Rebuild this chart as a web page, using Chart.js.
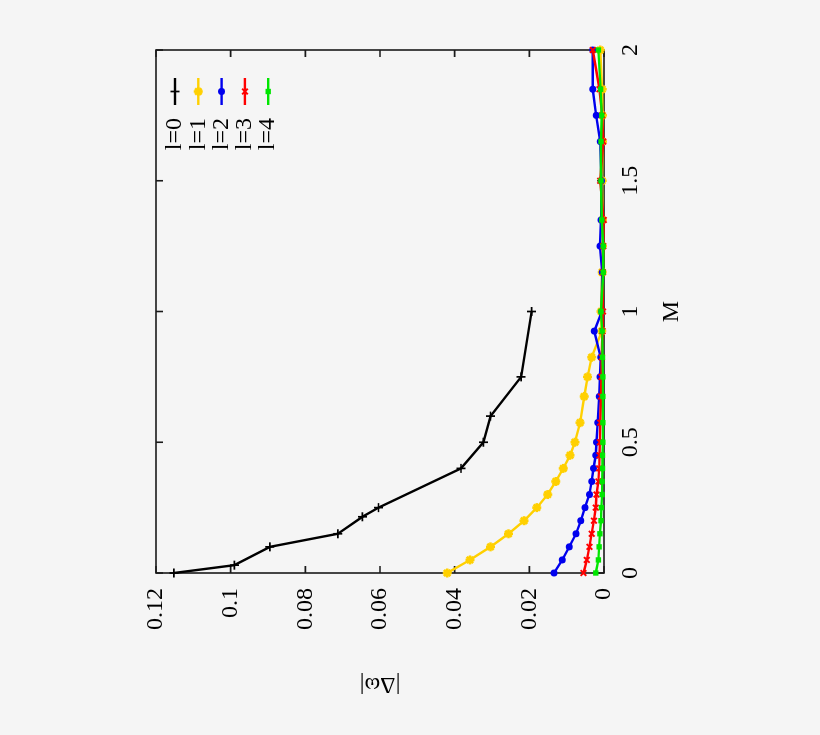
<!DOCTYPE html>
<html><head><meta charset="utf-8">
<script src="https://cdn.jsdelivr.net/npm/chart.js@4.4.1/dist/chart.umd.min.js"></script>
<style>
html,body{margin:0;padding:0;background:#f5f5f5;width:820px;height:735px;overflow:hidden}
#wrap{position:absolute;left:0;top:0;width:735px;height:820px;transform-origin:0 0;transform:translateY(735px) rotate(-90deg);}
canvas{display:block}
</style></head><body>
<div id="wrap"><canvas id="c" width="735" height="820"></canvas></div>
<script>
// ---- data ----
const seriesLabels = ['l=0','l=1','l=2','l=3','l=4'];
const mL0 = [0, 0.03, 0.1, 0.15, 0.215, 0.25, 0.4, 0.5, 0.6, 0.75, 1.0];
const vL0 = [0.1152, 0.0990, 0.0895, 0.0713, 0.0647, 0.0604, 0.0383, 0.0323, 0.0304, 0.0222, 0.0194];
const mGrid = [0,0.05,0.1,0.15,0.2,0.25,0.3,0.35,0.4,0.45,0.5,0.575,0.675,0.75,0.825,0.925,1.0,1.15,1.25,1.35,1.5,1.65,1.75,1.85,2.0];
const vL1 = [0.0420,0.0359,0.0304,0.0256,0.0214,0.0180,0.0151,0.0129,0.0109,0.0091,0.0078,0.0064,0.0053,0.0044,0.0033,0.0006,0.0008,0.0005,0.0004,0.0004,0.0005,0.0004,0.0004,0.0005,0.0010];
const vL2 = [0.0134,0.0112,0.0093,0.0075,0.0062,0.0051,0.0039,0.0033,0.0028,0.0022,0.0020,0.0017,0.0013,0.0011,0.0009,0.0026,0.0006,0.0005,0.0011,0.0008,0.0007,0.0010,0.0021,0.0030,0.0030];
const vL3 = [0.0055,0.0046,0.0039,0.0033,0.0027,0.0022,0.0020,0.0015,0.0013,0.0012,0.0011,0.0010,0.0008,0.0007,0.0006,0.0004,0.0003,0.0003,0.0002,0.0001,0.0010,0.0002,0.0005,0.0012,0.0030];
const vL4 = [0.0022,0.0015,0.0013,0.0011,0.0008,0.0007,0.0005,0.0005,0.0004,0.0004,0.0003,0.0003,0.0003,0.0003,0.0004,0.0005,0.0008,0.0002,0.0002,0.0006,0.0008,0.0008,0.0006,0.0009,0.0015];
const xTickValues = [0, 0.5, 1, 1.5, 2];
const xTickLabels = ['0','0.5','1','1.5','2'];
const yTickValues = [0, 0.02, 0.04, 0.06, 0.08, 0.1, 0.12];
const yTickLabels = ['0','0.02','0.04','0.06','0.08','0.1','0.12'];
const xTitle = 'M';
const yTitle = '|Δω|';

// ---- styles ----
const FONT = '"Liberation Serif", "Times New Roman", Times, serif';
const styles = [
  {color:'#000000', pointStyle:'cross',    radius:4.5, pbw:1.7},
  {color:'#ffd000', pointStyle:'star',     radius:4.5, pbw:2.6},
  {color:'#0000ee', pointStyle:'circle',   radius:3.5, pbw:0},
  {color:'#ff0000', pointStyle:'crossRot', radius:4,   pbw:1.9},
  {color:'#00e600', pointStyle:'rect',     radius:3.8, pbw:0}
];
const pairs = (ms, vs) => ms.map((m,i)=>({x:m, y:vs[i]}));
const seriesData = [pairs(mL0,vL0), pairs(mGrid,vL1), pairs(mGrid,vL2), pairs(mGrid,vL3), pairs(mGrid,vL4)];

const datasets = seriesData.map((d,i)=>({
  label: seriesLabels[i],
  data: d,
  borderColor: styles[i].color,
  backgroundColor: styles[i].color,
  pointBackgroundColor: styles[i].color,
  pointBorderColor: styles[i].color,
  pointStyle: styles[i].pointStyle,
  pointRadius: styles[i].radius,
  pointBorderWidth: styles[i].pbw,
  borderWidth: 2.4,
  showLine: true,
  fill: false,
  tension: 0,
  clip: false,
  order: 4 - i
}));

const framePlugin = {
  id:'frame',
  beforeDatasetsDraw(chart){
    const {ctx, chartArea:a, scales:{x,y}} = chart;
    ctx.save();
    ctx.strokeStyle='#1a1a1a'; ctx.lineWidth=1.6;
    ctx.strokeRect(a.left,a.top,a.right-a.left,a.bottom-a.top);
    const tl=7;
    ctx.beginPath();
    x.ticks.forEach(t=>{const px=x.getPixelForValue(t.value); ctx.moveTo(px,a.bottom); ctx.lineTo(px,a.bottom-tl); ctx.moveTo(px,a.top); ctx.lineTo(px,a.top+tl);});
    y.ticks.forEach(t=>{const py=y.getPixelForValue(t.value); ctx.moveTo(a.left,py); ctx.lineTo(a.left+tl,py); ctx.moveTo(a.right,py); ctx.lineTo(a.right-tl,py);});
    ctx.stroke(); ctx.restore();
  }
};

const keyPlugin = {
  id:'key',
  afterDatasetsDraw(chart){
    const {ctx, chartArea:a} = chart;
    const rowTop = a.top + 19, rowStep = 23.3;
    const textRight = a.right - 68, s1 = a.right - 55, s2 = a.right - 28;
    chart.data.datasets.forEach((ds,i)=>{
      const yy = rowTop + i*rowStep;
      ctx.save();
      ctx.font = '24px ' + FONT; ctx.fillStyle = '#000'; ctx.textAlign = 'right'; ctx.textBaseline = 'middle';
      ctx.fillText(ds.label, textRight, yy);
      ctx.strokeStyle = ds.borderColor; ctx.lineWidth = ds.borderWidth;
      ctx.beginPath(); ctx.moveTo(s1,yy); ctx.lineTo(s2,yy); ctx.stroke();
      ctx.fillStyle = ds.pointBackgroundColor; ctx.strokeStyle = ds.pointBorderColor;
      ctx.lineWidth = ds.pointBorderWidth;
      Chart.helpers.drawPoint(ctx, {pointStyle: ds.pointStyle, radius: ds.pointRadius, borderWidth: ds.pointBorderWidth, rotation: 0}, (s1+s2)/2, yy);
      ctx.restore();
    });
  }
};

new Chart(document.getElementById('c'), {
  type: 'line',
  data: { datasets },
  plugins: [framePlugin, keyPlugin],
  options: {
    responsive: false,
    animation: false,
    events: [],
    layout: { padding: { left: 0, right: 50, top: 156, bottom: 0 } },
    plugins: { legend: { display: false }, tooltip: { enabled: false } },
    scales: {
      x: {
        type: 'linear', min: 0, max: 2,
        afterBuildTicks: s => { s.ticks = xTickValues.map(v=>({value:v})); },
        afterFit: s => { s.height = 216; },
        grid: { display: false, drawTicks: false },
        border: { display: false },
        ticks: {
          padding: 12, color: '#000', font: { family: FONT, size: 24 }, maxRotation: 0,
          callback: v => xTickLabels[xTickValues.findIndex(t=>Math.abs(t-v)<1e-9)]
        },
        title: { display: true, text: xTitle, color: '#000', font: { family: FONT, size: 24 }, padding: { top: 0, bottom: 134 } }
      },
      y: {
        type: 'linear', min: 0, max: 0.12,
        afterBuildTicks: s => { s.ticks = yTickValues.map(v=>({value:v})); },
        afterFit: s => { s.width = 162; },
        grid: { display: false, drawTicks: false },
        border: { display: false },
        ticks: {
          padding: 15, color: '#000', font: { family: FONT, size: 24 },
          callback: v => yTickLabels[yTickValues.findIndex(t=>Math.abs(t-v)<1e-9)]
        },
        title: { display: true, text: yTitle, color: '#000', font: { family: FONT, size: 24 }, padding: { top: 36, bottom: 0 } }
      }
    }
  }
});
</script>
</body></html>
